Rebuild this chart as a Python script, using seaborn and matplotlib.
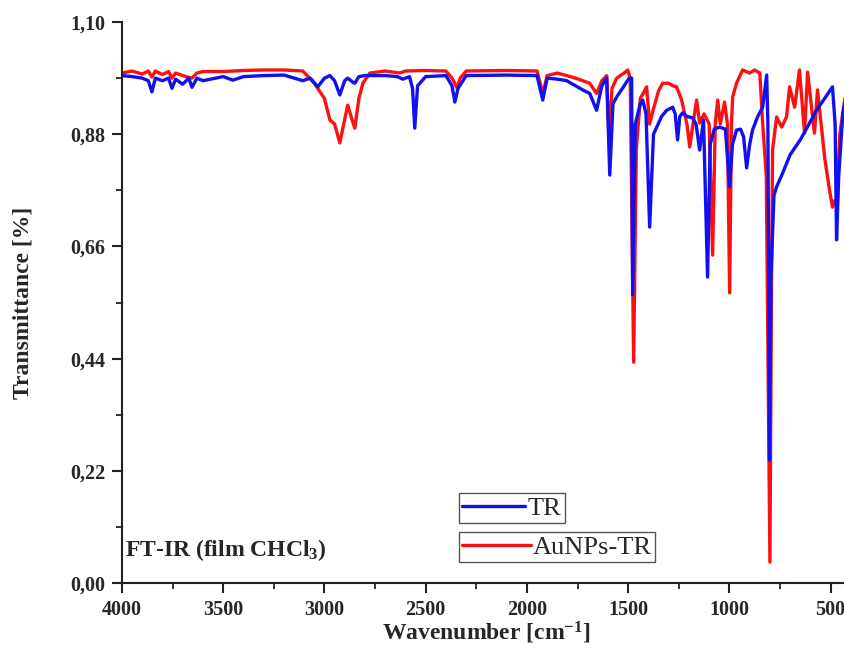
import numpy as np
import pandas as pd
import matplotlib
matplotlib.use("Agg")
import matplotlib.pyplot as plt
from matplotlib.ticker import MultipleLocator, FuncFormatter
import seaborn as sns

# FT-IR spectra, values (wavenumber in cm-1, transmittance)
tr_wn = [4000, 3950, 3900, 3870, 3852, 3835, 3800, 3770, 3753, 3735, 3700, 3670, 3654, 3630,
         3600, 3500, 3452, 3400, 3300, 3200, 3107, 3070, 3033, 3000, 2973, 2950, 2924, 2900,
         2885, 2860, 2850, 2830, 2800, 2700, 2640, 2613, 2580, 2565, 2554, 2540, 2500, 2400,
         2370, 2356, 2340, 2300, 2100, 1950, 1922, 1900, 1850, 1804, 1760, 1725, 1690, 1656,
         1630, 1606, 1591, 1575, 1557, 1520, 1495, 1483, 1478, 1465, 1440, 1428, 1412, 1394,
         1375, 1359, 1335, 1310, 1280, 1268, 1256, 1245, 1231, 1210, 1182, 1165, 1147, 1128,
         1108, 1095, 1075, 1048, 1020, 999, 985, 965, 945, 930, 915, 900, 886, 860, 836, 816,
         810, 802, 795, 780, 767, 737, 700, 650, 600, 570, 530, 491, 478, 471, 460, 440, 420]
tr_t = [0.995, 0.993, 0.990, 0.985, 0.963, 0.990, 0.985, 0.990, 0.970, 0.988, 0.978, 0.990,
        0.972, 0.990, 0.985, 0.993, 0.986, 0.993, 0.995, 0.996, 0.985, 0.990, 0.973, 0.990,
        0.995, 0.985, 0.957, 0.985, 0.990, 0.982, 0.980, 0.993, 0.995, 0.995, 0.993, 0.988,
        0.993, 0.970, 0.892, 0.975, 0.993, 0.995, 0.975, 0.943, 0.970, 0.995, 0.996, 0.995,
        0.947, 0.990, 0.988, 0.985, 0.975, 0.967, 0.960, 0.927, 0.975, 0.990, 0.800, 0.940,
        0.953, 0.975, 0.990, 0.990, 0.565, 0.900, 0.940, 0.947, 0.920, 0.698, 0.880, 0.894,
        0.915, 0.927, 0.933, 0.920, 0.869, 0.915, 0.922, 0.915, 0.912, 0.900, 0.849, 0.908,
        0.600, 0.860, 0.890, 0.894, 0.890, 0.777, 0.860, 0.888, 0.890, 0.875, 0.814, 0.860,
        0.888, 0.915, 0.933, 0.996, 0.900, 0.241, 0.600, 0.760, 0.777, 0.804, 0.840, 0.869,
        0.905, 0.927, 0.950, 0.973, 0.900, 0.673, 0.800, 0.920, 0.960]

au_wn = [4000, 3950, 3900, 3870, 3852, 3835, 3800, 3770, 3753, 3735, 3700, 3654, 3630, 3600,
         3500, 3400, 3300, 3200, 3107, 3050, 3000, 2973, 2950, 2924, 2905, 2885, 2865, 2850,
         2830, 2810, 2776, 2700, 2628, 2600, 2500, 2400, 2370, 2356, 2345, 2330, 2300, 2100,
         1950, 1922, 1900, 1850, 1804, 1760, 1725, 1690, 1656, 1630, 1606, 1595, 1580, 1557,
         1520, 1502, 1490, 1473, 1460, 1440, 1409, 1394, 1375, 1350, 1330, 1300, 1280, 1261,
         1236, 1210, 1196, 1180, 1162, 1147, 1125, 1100, 1083, 1070, 1058, 1045, 1024, 1010,
         999, 990, 984, 965, 935, 900, 876, 850, 836, 818, 800, 792, 787, 767, 742, 718, 703,
         678, 654, 629, 614, 580, 565, 530, 506, 491, 480, 470, 455, 430]
au_t = [1.000, 1.004, 0.998, 1.004, 0.992, 1.004, 0.997, 1.003, 0.990, 1.000, 0.995, 0.990,
        1.000, 1.003, 1.003, 1.005, 1.006, 1.006, 1.004, 0.980, 0.950, 0.908, 0.900, 0.863,
        0.900, 0.937, 0.910, 0.892, 0.950, 0.980, 1.000, 1.004, 1.000, 1.004, 1.005, 1.004,
        0.990, 0.980, 0.970, 0.990, 1.004, 1.005, 1.004, 0.960, 0.995, 1.000, 0.995, 0.990,
        0.985, 0.980, 0.960, 0.985, 0.995, 0.870, 0.970, 0.990, 1.000, 1.006, 0.990, 0.433,
        0.850, 0.950, 0.973, 0.900, 0.930, 0.965, 0.980, 0.980, 0.975, 0.973, 0.947, 0.900,
        0.855, 0.900, 0.947, 0.902, 0.920, 0.900, 0.643, 0.900, 0.947, 0.900, 0.943, 0.900,
        0.569, 0.900, 0.953, 0.980, 1.006, 1.000, 1.006, 1.000, 0.902, 0.800, 0.041, 0.600,
        0.849, 0.914, 0.894, 0.914, 0.973, 0.933, 1.006, 0.882, 1.002, 0.882, 0.967, 0.835,
        0.771, 0.737, 0.750, 0.740, 0.880, 0.950]

y_ticks = [0.00, 0.22, 0.44, 0.66, 0.88, 1.10]

sns.set_theme(style="ticks")
plt.rcParams['font.family'] = ['Liberation Serif', 'DejaVu Serif']
plt.rcParams['mathtext.default'] = 'regular'

fig = plt.figure(figsize=(8.44, 6.66), dpi=100)
# axes run past the right edge, as in the cropped original
ax = fig.add_axes([0.1445, 0.1246, 0.8637, 0.8423])

df_tr = pd.DataFrame({'wn': tr_wn, 't': tr_t})
df_au = pd.DataFrame({'wn': au_wn, 't': au_t})

sns.lineplot(data=df_au, x='wn', y='t', color='#ff1010', lw=2.4, sort=False, ax=ax)
sns.lineplot(data=df_tr, x='wn', y='t', color='#1010f0', lw=2.4, sort=False, ax=ax)

ax.set_xlim(4000, 400)
ax.set_ylim(0, 1.10)
ax.xaxis.set_major_locator(MultipleLocator(500))
ax.xaxis.set_minor_locator(MultipleLocator(250))
ax.set_yticks(y_ticks)
ax.yaxis.set_minor_locator(MultipleLocator(0.11))
ax.yaxis.set_major_formatter(FuncFormatter(lambda v, p: f'{v:.2f}'.replace('.', ',')))

for s in ['top', 'right']:
    ax.spines[s].set_visible(False)
for s in ['left', 'bottom']:
    ax.spines[s].set_linewidth(1.5)
    ax.spines[s].set_color('#222222')

ax.tick_params(which='major', direction='out', length=7, width=1.5, color='#222222',
               labelsize=14.5, pad=5)
ax.tick_params(which='minor', direction='out', length=4, width=1.3, color='#222222')
for lab in ax.get_xticklabels() + ax.get_yticklabels():
    lab.set_fontweight('bold')

ax.set_xlabel('Wavenumber [cm$^{-1}$]', fontsize=17, fontweight='bold', labelpad=0)
ax.set_ylabel('Transmittance [%]', fontsize=17, fontweight='bold', labelpad=26)

ax.text(3985, 0.065, 'FT-IR (film CHCl$_3$)', fontsize=17, fontweight='bold',
        va='center', ha='left')

# two separate boxed legend entries
h_tr, = ax.plot([], [], color='#1010f0', lw=2.4)
h_au, = ax.plot([], [], color='#ff1010', lw=2.4)
leg_kw = dict(loc='lower left', frameon=True, fancybox=False, edgecolor='#555555',
              framealpha=1, borderaxespad=0, borderpad=0.12, handletextpad=0.1,
              prop={'family': 'Liberation Serif', 'size': 19})
leg1 = ax.legend([h_tr], ['TR'], bbox_to_anchor=(0.462, 0.107), handlelength=2.4, **leg_kw)
leg1.get_frame().set_linewidth(1.0)
ax.add_artist(leg1)
leg2 = ax.legend([h_au], ['AuNPs-TR'], bbox_to_anchor=(0.462, 0.037), handlelength=2.6, **leg_kw)
leg2.get_frame().set_linewidth(1.0)

fig.savefig('out.png', dpi=100, facecolor='white')
